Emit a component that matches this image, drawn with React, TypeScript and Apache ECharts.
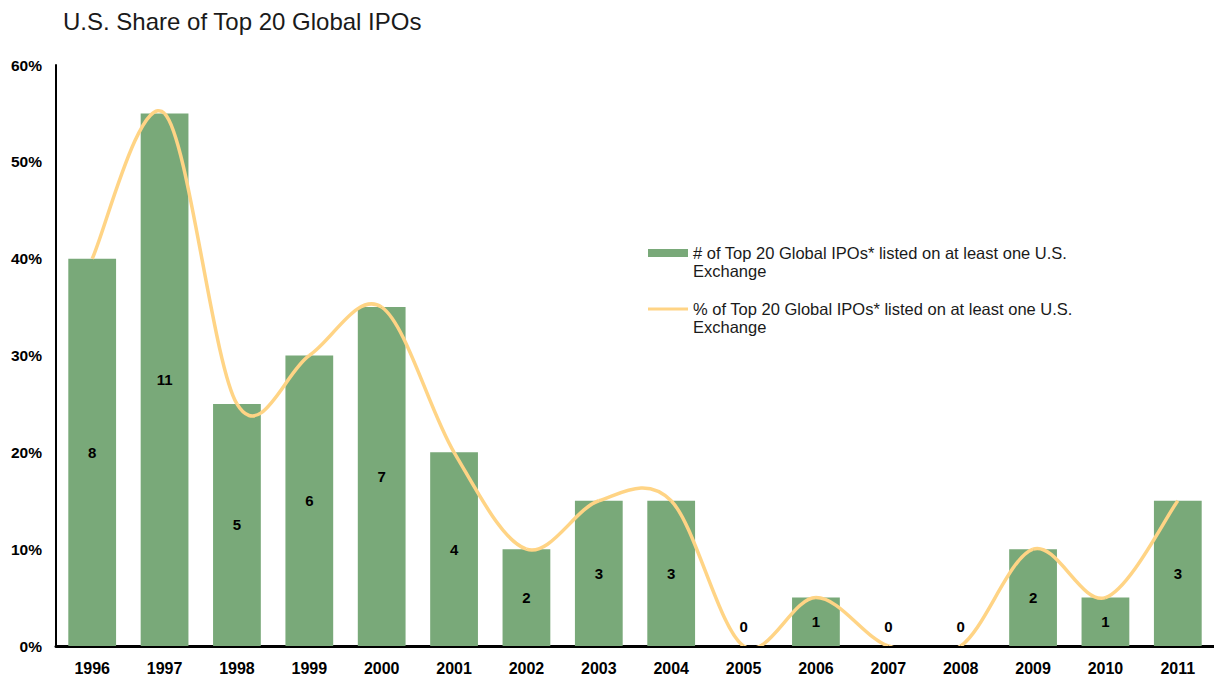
import React, { useEffect, useRef } from "react";
import * as echarts from "echarts";

const years = ["1996", "1997", "1998", "1999", "2000", "2001", "2002", "2003", "2004", "2005", "2006", "2007", "2008", "2009", "2010", "2011"];
const counts = [8, 11, 5, 6, 7, 4, 2, 3, 3, 0, 1, 0, 0, 2, 1, 3];
const shares = [40, 55, 25, 30, 35, 20, 10, 15, 15, 0, 5, 0, 0, 10, 5, 15];
const yTicks = { min: 0, max: 60, interval: 10 };
const barName = "# of Top 20 Global IPOs* listed on at least one U.S. Exchange";
const lineName = "% of Top 20 Global IPOs* listed on at least one U.S. Exchange";
const titleText = "U.S. Share of Top 20 Global IPOs";

const FONT = "'Liberation Sans', Arial, sans-serif";
const GREEN = "#79A979";
const GOLD = "#FFD485";

export default function App() {
  const ref = useRef<HTMLDivElement>(null);
  useEffect(() => {
    if (!ref.current) return;
    const chart = echarts.init(ref.current, undefined, { renderer: "svg" });
    const wrap = (name: string) => "\n" + name.replace(" Exchange", "\nExchange");
    const n = shares.length;
    const pt = (api: any, k: number) => {
      const j = Math.max(0, Math.min(n - 1, k));
      return api.coord([j, shares[j]]);
    };
    chart.setOption({
      animation: false,
      backgroundColor: "#ffffff",
      title: {
        text: titleText,
        left: 58,
        top: 4,
        textStyle: { fontFamily: FONT, fontSize: 24, fontWeight: "normal", color: "#1a1a1a" },
      },
      legend: {
        orient: "vertical",
        left: 643,
        top: 221,
        itemWidth: 40,
        itemHeight: 8,
        itemGap: 2,
        data: [
          { name: barName, icon: "rect" },
          { name: lineName, icon: "path://M0 0H40V3H0Z" },
        ],
        formatter: wrap,
        textStyle: {
          fontFamily: FONT,
          fontSize: 16.5,
          color: "#1a1a1a",
          lineHeight: 18,
        },
      },
      grid: { left: 56, right: 0, top: 65, bottom: 37, containLabel: false },
      xAxis: {
        type: "category",
        data: years,
        axisLine: { show: true, lineStyle: { color: "#000", width: 3 } },
        axisTick: { show: false },
        axisLabel: { fontFamily: FONT, fontSize: 16, fontWeight: "bold", color: "#000", margin: 14 },
      },
      yAxis: {
        type: "value",
        min: yTicks.min,
        max: yTicks.max,
        interval: yTicks.interval,
        axisLine: { show: true, lineStyle: { color: "#000", width: 2 } },
        axisTick: { show: false },
        splitLine: { show: false },
        axisLabel: {
          formatter: "{value}%",
          fontFamily: FONT,
          fontSize: 15.5,
          fontWeight: "bold",
          color: "#000",
          margin: 14,
        },
      },
      series: [
        {
          name: barName,
          type: "bar",
          barWidth: "66%",
          itemStyle: { color: GREEN },
          data: shares.map((v, i) =>
            counts[i] === 0
              ? { value: v, label: { position: "top", distance: 12 } }
              : { value: v }
          ),
          label: {
            show: true,
            position: "inside",
            formatter: (p: any) => String(counts[p.dataIndex]),
            fontFamily: FONT,
            fontSize: 15,
            fontWeight: "bold",
            color: "#000",
          },
          z: 2,
        },
        {
          name: lineName,
          type: "custom",
          itemStyle: { color: GOLD },
          encode: { x: 0, y: 1 },
          data: shares.map((v, i) => [i, v]),
          z: 3,
          renderItem: (params: any, api: any) => {
            const i = params.dataIndex;
            if (i >= n - 1) return null;
            const p0 = pt(api, i - 1);
            const p1 = pt(api, i);
            const p2 = pt(api, i + 1);
            const p3 = pt(api, i + 2);
            const cs = params.coordSys;
            return {
              type: "group",
              clipPath: {
                type: "rect",
                shape: { x: cs.x, y: cs.y - 20, width: cs.width, height: cs.height + 20 },
              },
              children: [
                {
                  type: "bezierCurve",
                  shape: {
                    x1: p1[0],
                    y1: p1[1],
                    x2: p2[0],
                    y2: p2[1],
                    cpx1: p1[0] + (p2[0] - p0[0]) / 6,
                    cpy1: p1[1] + (p2[1] - p0[1]) / 6,
                    cpx2: p2[0] - (p3[0] - p1[0]) / 6,
                    cpy2: p2[1] - (p3[1] - p1[1]) / 6,
                  },
                  style: { stroke: GOLD, lineWidth: 3.5, fill: "none" },
                },
              ],
            };
          },
        },
      ],
    });
    return () => chart.dispose();
  }, []);
  return (
    <div
      ref={ref}
      style={{ position: "fixed", left: 0, top: 0, width: 1214, height: 683 }}
    />
  );
}
